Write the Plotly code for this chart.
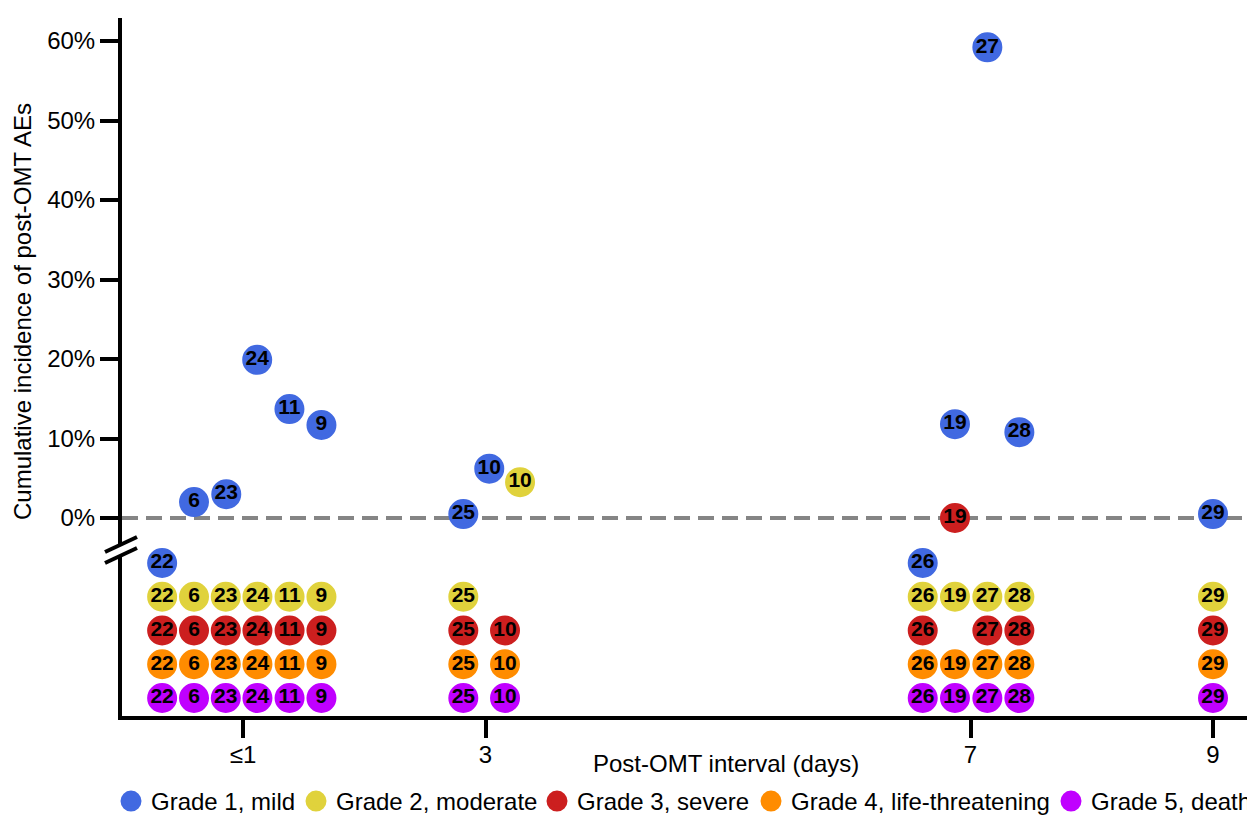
import plotly.graph_objects as go

# ---------------- data ----------------
GRADE_NAMES = ["Grade 1, mild", "Grade 2, moderate", "Grade 3, severe",
               "Grade 4, life-threatening", "Grade 5, death"]
GRADE_COLORS = ["#4169E1", "#E0D23C", "#CC1F1F", "#FF8C00", "#C000FF"]

X_TICKS = [1, 3, 7, 9]
X_TICK_LABELS = ["≤1", "3", "7", "9"]
Y_TICKS = [0, 10, 20, 30, 40, 50, 60]
Y_TICK_LABELS = ["0%", "10%", "20%", "30%", "40%", "50%", "60%"]

# observed cumulative incidence (upper panel)
UP_GRADE = [1, 1, 1, 1, 1, 1, 1, 2, 1, 3, 1, 1, 1]
UP_ID = [6, 23, 24, 11, 9, 25, 10, 10, 19, 19, 27, 28, 29]
UP_X = [0.596, 0.862, 1.117, 1.383, 1.647, 2.817, 3.031, 3.285,
        6.872, 6.872, 7.139, 7.403, 9.0]
UP_Y = [2.0, 3.0, 19.9, 13.7, 11.7, 0.5, 6.2, 4.5, 11.8, 0.0, 59.2, 10.8, 0.5]

# study positions (jittered x) for the lower "not reported" rows
STUDY_ID = [22, 6, 23, 24, 11, 9, 25, 10, 26, 19, 27, 28, 29]
STUDY_X = [0.333, 0.596, 0.858, 1.119, 1.384, 1.647, 2.817, 3.161,
           6.606, 6.872, 7.139, 7.403, 9.0]

LOW_G1 = [22, 26]
LOW_G2 = [22, 6, 23, 24, 11, 9, 25, 26, 19, 27, 28, 29]
LOW_G3 = [22, 6, 23, 24, 11, 9, 25, 10, 26, 27, 28, 29]
LOW_G4 = [22, 6, 23, 24, 11, 9, 25, 10, 26, 19, 27, 28, 29]
LOW_G5 = [22, 6, 23, 24, 11, 9, 25, 10, 26, 19, 27, 28, 29]
LOW_ROWS = [LOW_G1, LOW_G2, LOW_G3, LOW_G4, LOW_G5]

# ---------------- layout geometry ----------------
W, H = 1255, 820
OFF = 8                      # page body margin offset
ML, MR, MT, MB = 114, 10, 10, 112
PW, PH = W - ML - MR, H - MT - MB


def px_x(s):                 # screen px -> paper x
    return (s - OFF - ML) / PW


def px_y(s):                 # screen px -> paper y
    return (H - MB - (s - OFF)) / PH


def x_from_px(s):            # screen px -> data x
    return 1 + (s - 243) / 121.25


def y_from_px(s):            # screen px -> data y (upper panel)
    return (518 - s) / 7.95


FONT = "Liberation Sans, Arial, sans-serif"
MARK_SIZE = 25
MARK_LINE = 5
TXT = dict(family=FONT, size=21, color="black", weight="bold")
LEGEND_IDS = ["legend", "legend2", "legend3", "legend4", "legend5"]
LEGEND_TEXT_X = [152, 337, 578, 792, 1092]   # screen px of each legend label

fig = go.Figure()
xpos = dict(zip(STUDY_ID, STUDY_X))

# lower panel rows (legend entries)
for g in range(5):
    ids = LOW_ROWS[g]
    fig.add_trace(go.Scatter(
        x=[xpos[i] for i in ids], y=[g + 1] * len(ids),
        text=[str(i) for i in ids], mode="markers+text",
        textposition="middle center", textfont=TXT,
        marker=dict(size=MARK_SIZE, color=GRADE_COLORS[g],
                    line=dict(width=MARK_LINE, color=GRADE_COLORS[g])),
        name=GRADE_NAMES[g], legendgroup=str(g), showlegend=True,
        legend=LEGEND_IDS[g],
        xaxis="x", yaxis="y2", cliponaxis=False, hoverinfo="skip"))

# upper panel points
for g in range(5):
    idx = [k for k, gg in enumerate(UP_GRADE) if gg == g + 1]
    if not idx:
        continue
    fig.add_trace(go.Scatter(
        x=[UP_X[k] for k in idx], y=[UP_Y[k] for k in idx],
        text=[str(UP_ID[k]) for k in idx], mode="markers+text",
        textposition="middle center", textfont=TXT,
        marker=dict(size=MARK_SIZE, color=GRADE_COLORS[g],
                    line=dict(width=MARK_LINE, color=GRADE_COLORS[g])),
        name=GRADE_NAMES[g], legendgroup=str(g), showlegend=False,
        legend=LEGEND_IDS[g],
        xaxis="x", yaxis="y", cliponaxis=False, hoverinfo="skip"))

up_bot, lo_top = 544, 555
row_a, row_b = 529.25, 33.75   # screen y of row g = row_a + row_b * g
fig.update_layout(
    width=W, height=H, plot_bgcolor="white", paper_bgcolor="white",
    margin=dict(l=ML, r=MR, t=MT, b=MB, autoexpand=False),
    font=dict(family=FONT, size=24, color="black"),
    xaxis=dict(range=[x_from_px(122), x_from_px(1253)], anchor="y2",
               tickvals=X_TICKS, ticktext=X_TICK_LABELS,
               showline=True, linewidth=4, linecolor="black",
               ticks="outside", ticklen=18, tickwidth=4, tickcolor="black",
               ticklabelstandoff=-4,
               showgrid=False, zeroline=False, tickfont=dict(size=24)),
    yaxis=dict(domain=[px_y(up_bot), 1], anchor="x",
               range=[y_from_px(up_bot), y_from_px(18)],
               tickvals=Y_TICKS, ticktext=Y_TICK_LABELS,
               showline=True, linewidth=4, linecolor="black",
               ticks="outside", ticklen=18, tickwidth=4, tickcolor="black",
               showgrid=False, zeroline=False, tickfont=dict(size=24)),
    yaxis2=dict(domain=[0, px_y(lo_top)], anchor="x",
                range=[(716 - row_a) / row_b, (lo_top - row_a) / row_b],
                showline=True, linewidth=4, linecolor="black",
                showticklabels=False, ticks="", showgrid=False,
                zeroline=False),
    showlegend=True,
)

for g in range(5):
    fig.update_layout({LEGEND_IDS[g]: dict(
        orientation="h", x=px_x(LEGEND_TEXT_X[g] - 41), xanchor="left",
        y=px_y(779), yanchor="top", font=dict(size=24),
        itemsizing="trace", bgcolor="rgba(0,0,0,0)")})

# dashed zero reference line
fig.add_shape(type="line", xref="paper", x0=0, x1=1, yref="y", y0=0, y1=0,
              line=dict(color="#858585", width=4, dash="16px,8px"),
              layer="below")

# axis-break marks
for (xa, ya, xb, yb) in [(105, 552, 137, 537), (105, 563, 137, 548)]:
    fig.add_shape(type="line", xref="paper", yref="paper",
                  x0=px_x(xa), y0=px_y(ya), x1=px_x(xb), y1=px_y(yb),
                  line=dict(color="black", width=4))

# axis titles
fig.add_annotation(text="Post-OMT interval (days)", xref="paper", yref="paper",
                   x=px_x(726), y=px_y(763), xanchor="center", yanchor="middle",
                   showarrow=False, font=dict(size=24))
fig.add_annotation(text="Cumulative incidence of post-OMT AEs", xref="paper",
                   yref="paper", x=px_x(22), y=px_y(312), textangle=-90,
                   xanchor="center", yanchor="middle", showarrow=False,
                   font=dict(size=24))

fig.write_html("out.html")
